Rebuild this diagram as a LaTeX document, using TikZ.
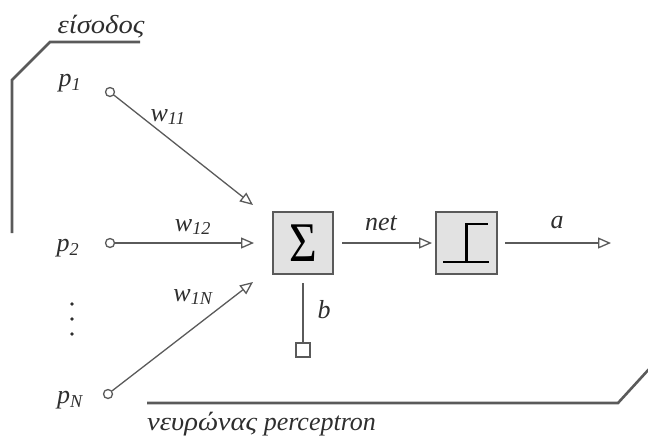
\documentclass[tikz,border=0pt]{standalone}
\usepackage{fontspec}
\setmainfont{Liberation Serif}
\usetikzlibrary{arrows.meta}
\definecolor{ln}{HTML}{5A5A5A}
\definecolor{tx}{HTML}{2E2E2E}
\definecolor{bx}{HTML}{E2E2E2}
\newcommand{\grk}[1]{\scalebox{1.1}[1]{\itshape #1}}
\begin{document}
\begin{tikzpicture}[x=1pt,y=-1pt,
  lbl/.style={text=tx,font=\fontsize{26}{30}\selectfont\itshape,inner sep=0pt},
  inp/.style={circle,draw=ln,fill=white,line width=1.3pt,inner sep=0pt,minimum size=9pt},
  conn/.style={draw=ln,line width=1.3pt,-{Triangle[open,length=13pt,width=11pt]}},
  blk/.style={draw=ln,fill=bx,line width=2pt,minimum width=60pt,minimum height=62pt,inner sep=0pt},
  brk/.style={draw=ln,line width=2.6pt}]
\useasboundingbox (0,0) rectangle (648,437);
% brackets
\coordinate (bA) at (140,42);
\coordinate (bB) at (50,42);
\coordinate (bC) at (12,80);
\coordinate (bD) at (12,233);
\draw[brk] (bA) -- (bB) -- (bC) -- (bD);
\coordinate (cA) at (147,403);
\coordinate (cB) at (618,403);
\coordinate (cC) at (650,368);
\draw[brk] (cA) -- (cB) -- (cC);
\node[lbl] (tin) at (101,27) {\grk{είσοδος}};
\node[lbl,anchor=west] (tneu) at (147,424) {\grk{νευρώνας} \itshape perceptron};
% inputs
\node[lbl] (lp1) at (70,83) {p\textsubscript{1}};
\node[lbl] (lp2) at (68,248) {p\textsubscript{2}};
\node[lbl] (lpN) at (70,400) {p\textsubscript{N}};
\node[inp] (c1) at (110,92) {};
\node[inp] (c2) at (110,243) {};
\node[inp] (cN) at (108,394) {};
\foreach \y [count=\i] in {304,319,334} \fill[tx] (72,\y) circle (1.9pt) node[inner sep=0pt] (dot\i) {};
% sum block
\node[blk] (sum) at (303,243) {\scalebox{0.85}[1]{\fontsize{56}{56}\selectfont Σ}};
\node[blk,minimum width=61pt] (act) at (466.5,243) {};
\draw[black,line width=2.2pt] (act.center) ++(-23.5,19) -- ++(46,0);
\draw[black,line width=2.2pt] (act.center) ++(0,19) -- ++(0,-38) -- ++(21.5,0);
% input arrows
\coordinate (t1) at (253,205);
\coordinate (t2) at (254,243);
\coordinate (tN) at (253,282);
\draw[conn] (c1) -- (t1);
\draw[conn] (c2) -- (t2);
\draw[conn] (cN) -- (tN);
\node[lbl] (w11) at (168,117) {w\textsubscript{11}};
\node[lbl] (w12) at (193,227) {w\textsubscript{12}};
\node[lbl] (w1N) at (193,297) {w\textsubscript{1N}};
% net, output
\draw[conn,shorten <=8pt,shorten >=3pt] (sum) -- (act);
\node[lbl] (net) at (381,223) {net};
\coordinate (out) at (611,243);
\draw[conn,shorten <=7pt] (act) -- (out);
\node[lbl] (a) at (557,223) {a};
% bias
\node[draw=ln,fill=white,line width=1.3pt,minimum size=14pt,inner sep=0pt] (bsq) at (303,350) {};
\draw[ln,line width=1.3pt,shorten <=8pt] (sum) -- (bsq);
\node[lbl] (b) at (324,310) {b};
\end{tikzpicture}
\end{document}
